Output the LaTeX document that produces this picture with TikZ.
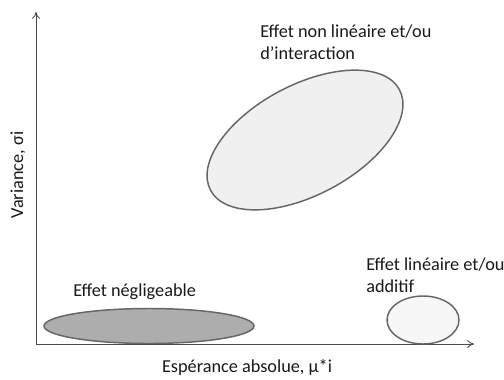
\documentclass[tikz,border=0pt]{standalone}
\usepackage{fontspec}
\setmainfont{Carlito}
\usetikzlibrary{positioning,arrows.meta,shapes.geometric}

\begin{document}
\begin{tikzpicture}[x=0.75pt, y=-0.75pt, font=\fontsize{13.7}{16.5}\selectfont,
  axis/.style={draw=black!70, line width=0.7pt, -{To[length=5pt,width=6pt]}},
  blob/.style={ellipse, draw=black!60, line width=1.1pt, inner sep=0pt},
  lbl/.style={align=left, inner sep=0pt, text=black!90}]
\useasboundingbox (0,0) rectangle (504,379);
% axes
\coordinate (o) at (36,344);
\coordinate (xend) at (474,344);
\coordinate (yend) at (36,12);
\draw[axis] (o) -- (xend);
\draw[axis] (o) -- (yend);
\node[text=black!90] (xlab) at (247,367) {Espérance absolue, µ*i};
\node[text=black!90, rotate=90] (ylab) at (18,175) {Variance, σi};
% zones
\node[blob, fill=black!6, minimum width=160.5pt, minimum height=82.5pt, rotate=28] (inter) at (305,140) {};
\node[blob, fill=black!32, minimum width=157.5pt, minimum height=26.25pt] (negl) at (149,326) {};
\node[blob, fill=black!3, minimum width=54pt, minimum height=36pt] (lin) at (423,320) {};
% labels
\node[lbl, anchor=north west] (interlab) at (260,25) {Effet non linéaire et/ou\\d’interaction};
\node[lbl, anchor=north west] (negllab) at (73,284) {Effet négligeable};
\node[lbl, anchor=north west] (linlab) at (366,258) {Effet linéaire et/ou\\additif};
\end{tikzpicture}
\end{document}
